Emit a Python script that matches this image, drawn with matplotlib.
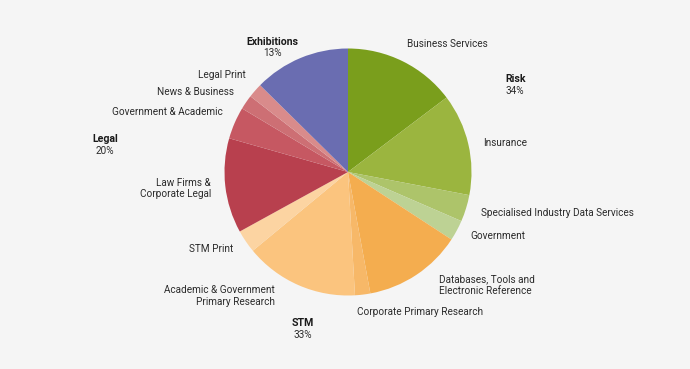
import matplotlib
matplotlib.use("Agg")
import matplotlib.pyplot as plt

categories = ["Business Services", "Insurance", "Specialised Industry Data Services", "Government",
              "Databases, Tools and\nElectronic Reference", "Corporate Primary Research",
              "Academic & Government\nPrimary Research", "STM Print",
              "Law Firms &\nCorporate Legal", "Government & Academic", "News & Business", "Legal Print",
              "Exhibitions"]
values = [14.7, 13.3, 3.5, 2.7, 12.9, 2.0, 14.9, 3.0, 12.4, 4.2, 1.9, 1.9, 12.6]
colors = ["#7a9e1c", "#9bb53f", "#adc46a", "#bdd294",
          "#f4ad4f", "#f7b868", "#fbc47e", "#fcd4a2",
          "#b8404e", "#c65862", "#cd6f74", "#d98b8b",
          "#6a6db1"]
groups = ["Risk", "STM", "Legal", "Exhibitions"]
group_pcts = ["34%", "33%", "20%", "13%"]

W, H = 690, 369
fig = plt.figure(figsize=(W / 100, H / 100), dpi=100)
fig.patch.set_facecolor("#f5f5f5")
ax = fig.add_axes([0, 0, 1, 1])
ax.set_facecolor("#f5f5f5")

def Y(py):
    return H - py

ax.pie(values, colors=colors, startangle=90, counterclock=False,
       center=(348, Y(172)), radius=123.5, frame=True,
       wedgeprops=dict(linewidth=0, antialiased=True))
ax.set_xlim(0, W)
ax.set_ylim(0, H)
ax.set_aspect("equal")
ax.axis("off")

FONT = "Roboto"
FS = 7.2
TC = "#2b2b2b"

def lab(x, y, s, ha="left", bold=False):
    ax.text(x, Y(y), s, ha=ha, va="center", fontsize=7.6 if bold else FS, family=FONT,
            color="#1a1a1a" if bold else TC,
            fontweight="bold" if bold else "normal", linespacing=1.15)

# category labels (pixel positions of label text)
lab(407, 44, categories[0])
lab(483, 143, categories[1])
lab(481, 212.5, categories[2])
lab(470, 236, categories[3])
lab(439, 285, categories[4])
lab(357, 312, categories[5])
lab(275, 296, categories[6], ha="right")
lab(233, 249, categories[7], ha="right")
lab(211, 188.5, categories[8], ha="right")
lab(223, 112, categories[9], ha="right")
lab(234, 92, categories[10], ha="right")
lab(246, 75.5, categories[11], ha="right")

# group labels
lab(505, 79, groups[0], bold=True)
lab(505, 91, group_pcts[0])
lab(303, 323, groups[1], ha="center", bold=True)
lab(303, 335, group_pcts[1], ha="center")
lab(105, 139, groups[2], ha="center", bold=True)
lab(105, 151, group_pcts[2], ha="center")
lab(272, 42, groups[3], ha="center", bold=True)
lab(272, 53.5, group_pcts[3], ha="center")

fig.savefig("out.png", dpi=100, facecolor=fig.get_facecolor())
